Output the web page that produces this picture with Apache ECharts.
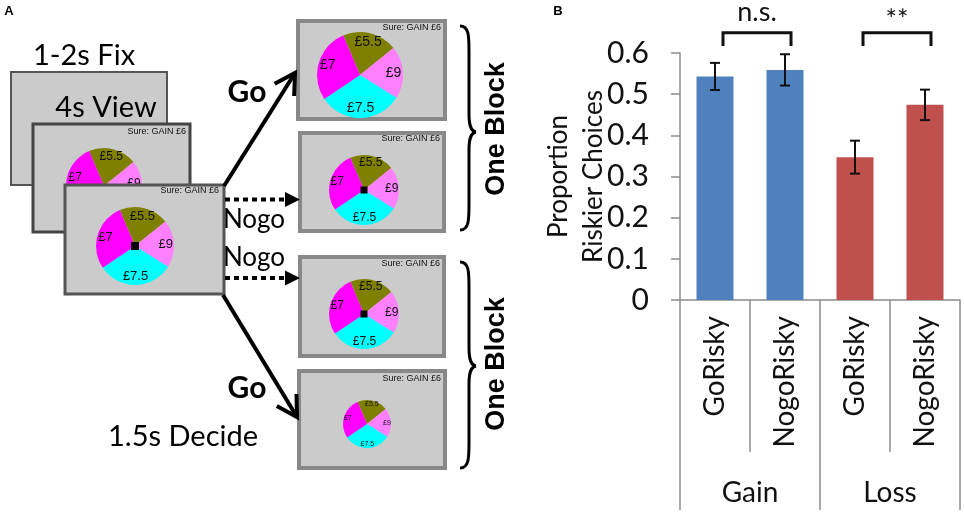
<!DOCTYPE html>
<html>
<head>
<meta charset="utf-8">
<script src="https://cdn.jsdelivr.net/npm/echarts@6.0.0/dist/echarts.min.js"></script>
<style>
html,body{margin:0;padding:0;background:#fff;}
#chart{width:964px;height:514px;}
</style>
</head>
<body>
<div id="chart"></div>
<script>
// ---------- Data ----------
const categories = ['GoRisky', 'NogoRisky', 'GoRisky', 'NogoRisky'];
const groups = ['Gain', 'Loss'];
const means = [0.543, 0.559, 0.347, 0.474];
const errors = [0.033, 0.038, 0.040, 0.037];
const barGroupOf = [0, 0, 1, 1];
const brackets = [[0, 1, 'n.s.'], [2, 3, '**']];
const bracketTop = 0.649;
const bracketLeg = 0.617;
const yTickValues = [0, 0.1, 0.2, 0.3, 0.4, 0.5, 0.6];

const pieLabels = ['£5.5', '£9', '£7.5', '£7'];
const pieShares = [74, 71, 114, 101];
const sureText = 'Sure: GAIN £6';

// ---------- Styles ----------
const barColors = ['#4f81bd', '#c0504d'];
const pieColors = ['#808000', '#ff80ff', '#00ffff', '#ff00ff'];
const boxFill = '#cbcbcb';
const CAL = 'Lato, "Open Sans", sans-serif';
const ARIAL = '"Liberation Sans", Arial, sans-serif';

// pie layout: [cx, cy, r, labelFont, z]
const pieLayouts = [
  [104, 186, 38, 12, 2],
  [135, 246, 39, 13, 4],
  [360, 75, 43, 14, 4],
  [364, 190, 35, 12, 4],
  [364, 314, 35, 12, 4],
  [367, 424, 24, 7, 4]
];

function pieData() {
  return pieLabels.map((n, i) => ({ name: n, value: pieShares[i], itemStyle: { color: pieColors[i] } }));
}

const series = [];
pieLayouts.forEach(([cx, cy, r, fs, z]) => {
  series.push({
    type: 'pie', silent: true, z: z, center: [cx, cy], radius: [0, r],
    startAngle: 113, clockwise: true, data: pieData(),
    label: { show: false }, labelLine: { show: false },
    itemStyle: { borderWidth: 0 }
  });
  series.push({
    type: 'pie', silent: true, z: z, center: [cx, cy], radius: [r * 0.42, r],
    startAngle: 113, clockwise: true,
    data: pieLabels.map((n, i) => ({ name: n, value: pieShares[i] })),
    itemStyle: { color: 'rgba(0,0,0,0)', borderWidth: 0 },
    label: { show: true, position: 'inside', color: '#111', fontSize: fs, fontFamily: ARIAL, formatter: '{b}' },
    labelLine: { show: false }
  });
});

// Bar chart
series.push({
  type: 'bar', xAxisIndex: 0, yAxisIndex: 0, barWidth: 37, z: 2,
  data: means.map((m, i) => ({ value: m, itemStyle: { color: barColors[barGroupOf[i]] } }))
});
series.push({
  type: 'custom', xAxisIndex: 0, yAxisIndex: 0, z: 5, clip: false,
  data: means.map((m, i) => [i, m - errors[i], m + errors[i]]),
  encode: { x: 0, y: [1, 2] },
  renderItem: function (params, api) {
    const lo = api.coord([api.value(0), api.value(1)]);
    const hi = api.coord([api.value(0), api.value(2)]);
    const hw = 5, st = { stroke: '#111', lineWidth: 2 };
    return {
      type: 'group', children: [
        { type: 'line', shape: { x1: lo[0], y1: lo[1], x2: hi[0], y2: hi[1] }, style: st },
        { type: 'line', shape: { x1: lo[0] - hw, y1: lo[1], x2: lo[0] + hw, y2: lo[1] }, style: st },
        { type: 'line', shape: { x1: hi[0] - hw, y1: hi[1], x2: hi[0] + hw, y2: hi[1] }, style: st }
      ]
    };
  }
});
series.push({
  type: 'custom', xAxisIndex: 0, yAxisIndex: 0, z: 5, clip: false,
  data: brackets.map(b => [b[0], b[1], bracketTop, bracketLeg]),
  renderItem: function (params, api) {
    const a = api.coord([api.value(0), api.value(2)]);
    const b = api.coord([api.value(1), api.value(2)]);
    const leg = api.coord([api.value(0), api.value(3)]);
    const x0 = a[0] + 8, x1 = b[0] + 6;
    const txt = brackets[params.dataIndex][2];
    return {
      type: 'group', children: [
        { type: 'polyline', shape: { points: [[x0, leg[1]], [x0, a[1]], [x1, a[1]], [x1, leg[1]]] },
          style: { stroke: '#111', lineWidth: 3, fill: null } },
        { type: 'text', x: (x0 + x1) / 2, y: a[1] - (txt === '**' ? 13 : 21),
          style: { text: txt, font: '27px ' + CAL, fill: '#111', align: 'center', verticalAlign: 'middle',
                   textAlign: 'center', textVerticalAlign: 'middle' } }
      ]
    };
  }
});

// ---------- Panel A graphics ----------
function T(text, x, y, font, extra) {
  return Object.assign({
    type: 'text', x: x, y: y, z: 10,
    style: { text: text, font: font, fill: '#000', align: 'center', verticalAlign: 'middle',
             textAlign: 'center', textVerticalAlign: 'middle' }
  }, extra || {});
}
function R(x, y, w, h, stroke, lw, z) {
  return { type: 'rect', z: z, shape: { x: x, y: y, width: w, height: h },
           style: { fill: boxFill, stroke: stroke, lineWidth: lw } };
}
function sure(xr, y, z) {
  return { type: 'text', x: xr, y: y, z: z,
           style: { text: sureText, font: '9px ' + ARIAL, fill: '#111', align: 'right', verticalAlign: 'middle',
                    textAlign: 'right', textVerticalAlign: 'middle' } };
}
function sq(cx, cy, s) {
  return { type: 'rect', z: 6, shape: { x: cx - s / 2, y: cy - s / 2, width: s, height: s }, style: { fill: '#000' } };
}
function arrowHead(x0, y0, x1, y1, len) {
  const a = Math.atan2(y0 - y1, x0 - x1);
  const w1 = [x1 + len * Math.cos(a + Math.PI / 6), y1 + len * Math.sin(a + Math.PI / 6)];
  const w2 = [x1 + len * Math.cos(a - Math.PI / 6), y1 + len * Math.sin(a - Math.PI / 6)];
  return [w1, [x1, y1], w2];
}
const braceSt = { stroke: '#000', lineWidth: 3, fill: null };
function bz(x1, y1, c1x, c1y, c2x, c2y, x2, y2) {
  return { type: 'bezierCurve', z: 8,
    shape: { x1: x1, y1: y1, cpx1: c1x, cpy1: c1y, cpx2: c2x, cpy2: c2y, x2: x2, y2: y2 }, style: braceSt };
}
function ln(x1, y1, x2, y2) {
  return { type: 'line', z: 8, shape: { x1: x1, y1: y1, x2: x2, y2: y2 }, style: braceSt };
}
function brace(yt, ym, yb) {
  const xl = 460, xv = 469, xt = 476;
  return [
    bz(xl, yt, xv, yt, xv, yt + 10, xv, yt + 26),
    ln(xv, yt + 26, xv, ym - 18),
    bz(xv, ym - 18, xv, ym - 6, xv + 2, ym - 1, xt, ym),
    bz(xt, ym, xv + 2, ym + 1, xv, ym + 6, xv, ym + 18),
    ln(xv, ym + 18, xv, yb - 26),
    bz(xv, yb - 26, xv, yb - 10, xv, yb, xl, yb)
  ];
}
const lineSt = { stroke: '#000', lineWidth: 4, fill: null };

const elements = [
  T('A', 9, 11, 'bold 13px ' + ARIAL),
  T('B', 558, 11, 'bold 13px ' + ARIAL),
  T('1-2s Fix', 84, 56, '29px ' + CAL),
  R(11, 72, 156, 113, '#555', 2, 1),
  T('4s View', 106, 108, '29px ' + CAL, { z: 1 }),
  R(33, 124, 157, 108, '#444', 3, 1),
  sure(186, 132, 1),
  R(65, 185, 159, 109, '#555', 3, 3),
  sure(219, 191, 3),
  R(298, 21, 147, 98, '#888', 4, 1),
  sure(441, 28, 1),
  R(300, 133, 144, 98, '#888', 4, 1),
  sure(440, 139, 1),
  R(300, 257, 144, 99, '#888', 4, 1),
  sure(440, 264, 1),
  R(299, 371, 146, 97, '#888', 4, 1),
  sure(441, 379, 1),
  sq(135, 246, 8), sq(364, 190, 7), sq(364, 314, 7),
  { type: 'polyline', z: 8, shape: { points: [[224, 186], [295, 73]] }, style: lineSt },
  { type: 'polyline', z: 8, shape: { points: arrowHead(224, 186, 295, 73, 23) }, style: lineSt },
  { type: 'polyline', z: 8, shape: { points: [[223, 295], [297, 417]] }, style: lineSt },
  { type: 'polyline', z: 8, shape: { points: arrowHead(223, 295, 297, 417, 23) }, style: lineSt },
  { type: 'line', z: 8, shape: { x1: 225, y1: 199.5, x2: 287, y2: 199.5 }, style: { stroke: '#000', lineWidth: 4, lineDash: [5, 4] } },
  { type: 'polygon', z: 8, shape: { points: [[285, 192], [300, 199.5], [285, 207]] }, style: { fill: '#000' } },
  { type: 'line', z: 8, shape: { x1: 225, y1: 278, x2: 287, y2: 278 }, style: { stroke: '#000', lineWidth: 4, lineDash: [5, 4] } },
  { type: 'polygon', z: 8, shape: { points: [[285, 270.5], [300, 278], [285, 285.5]] }, style: { fill: '#000' } },
  T('Go', 247, 92, 'bold 30px ' + CAL),
  T('Go', 247, 388, 'bold 30px ' + CAL),
  T('Nogo', 254, 220, '26px ' + CAL),
  T('Nogo', 254, 258, '26px ' + CAL),
  T('1.5s Decide', 183, 437, '29px ' + CAL),
  T('One Block', 497, 129, 'bold 27px ' + ARIAL, { rotation: Math.PI / 2 }),
  T('One Block', 497, 364, 'bold 27px ' + ARIAL, { rotation: Math.PI / 2 })
].concat(brace(26, 132, 230), brace(262, 366, 468));

const gray = '#8c8c8c';
const option = {
  animation: false,
  backgroundColor: '#fff',
  grid: { left: 680, top: 53, width: 280, height: 247, containLabel: false },
  xAxis: [
    {
      type: 'category', data: categories, gridIndex: 0, position: 'bottom',
      axisLine: { show: true, lineStyle: { color: gray, width: 1.5 } },
      axisTick: { show: true, length: 152, interval: 0, alignWithLabel: false, lineStyle: { color: gray, width: 1.5 } },
      axisLabel: { rotate: 90, margin: 16, interval: 0, fontSize: 28, fontFamily: CAL, color: '#111' },
      splitLine: { show: false }
    },
    {
      type: 'category', data: groups, gridIndex: 0, position: 'bottom',
      axisLine: { show: false },
      axisTick: { show: true, length: 210, interval: 0, alignWithLabel: false, lineStyle: { color: gray, width: 1.5 } },
      axisLabel: { margin: 179, interval: 0, fontSize: 28, fontFamily: CAL, color: '#111' },
      splitLine: { show: false }
    }
  ],
  yAxis: {
    type: 'value', min: yTickValues[0], max: yTickValues[yTickValues.length - 1], interval: 0.1,
    axisLine: { show: true, lineStyle: { color: gray, width: 1.5 } },
    axisTick: { show: true, length: 9, lineStyle: { color: gray, width: 1.5 } },
    axisLabel: { fontSize: 30, fontFamily: CAL, color: '#111', margin: 31 },
    splitLine: { show: false },
    name: 'Proportion\nRiskier Choices', nameLocation: 'middle', nameRotate: 90, nameGap: 69,
    nameMoveOverlap: false,
    nameTextStyle: { fontSize: 26, fontFamily: CAL, color: '#111', lineHeight: 35 }
  },
  series: series,
  graphic: { elements: elements }
};

const chart = echarts.init(document.getElementById('chart'), null, { renderer: 'canvas' });
chart.setOption(option);
</script>
</body>
</html>
